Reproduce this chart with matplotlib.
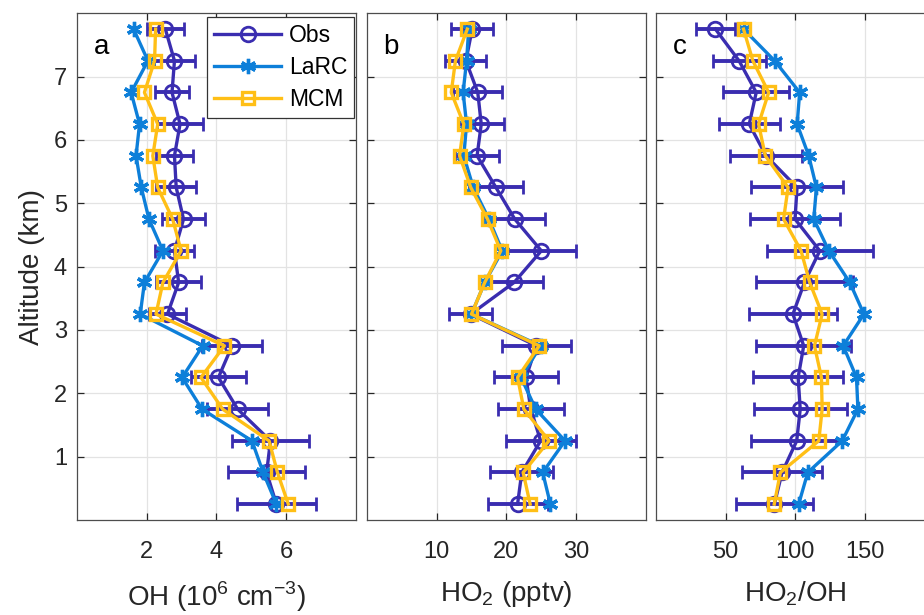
import numpy as np
import matplotlib
matplotlib.use("Agg")
import matplotlib.pyplot as plt
from matplotlib.lines import Line2D

plt.rcParams['font.family'] = ['Liberation Sans', 'DejaVu Sans']
plt.rcParams['mathtext.fontset'] = 'custom'
plt.rcParams['mathtext.rm'] = 'Liberation Sans'

altitude = [0.25, 0.75, 1.25, 1.75, 2.25, 2.75, 3.25, 3.75,
            4.25, 4.75, 5.25, 5.75, 6.25, 6.75, 7.25, 7.75]

# OH (10^6 cm^-3)
oh_obs = [5.72, 5.44, 5.55, 4.61, 4.06, 4.45, 2.60, 2.92,
          2.80, 3.06, 2.85, 2.80, 2.96, 2.73, 2.80, 2.54]
oh_obs_err = [1.14, 1.10, 1.10, 0.88, 0.79, 0.85, 0.53, 0.64,
              0.57, 0.62, 0.57, 0.52, 0.67, 0.50, 0.60, 0.52]
oh_larc = [5.72, 5.34, 5.02, 3.59, 3.02, 3.61, 1.82, 1.94,
           2.47, 2.07, 1.85, 1.70, 1.80, 1.56, 2.04, 1.63]
oh_mcm = [6.06, 5.75, 5.51, 4.18, 3.56, 4.23, 2.27, 2.47,
          2.99, 2.75, 2.32, 2.18, 2.32, 1.94, 2.23, 2.26]

# HO2 (pptv)
ho2_obs = [21.6, 22.2, 24.9, 23.5, 22.8, 24.3, 14.9, 21.1,
           25.0, 21.2, 18.5, 15.8, 16.4, 15.9, 14.2, 15.1]
ho2_obs_err = [4.3, 4.5, 5.0, 4.75, 4.6, 4.9, 3.05, 4.2,
               5.0, 4.3, 3.9, 3.1, 3.3, 3.5, 2.95, 3.05]
ho2_larc = [26.3, 25.2, 28.4, 24.2, 22.1, 24.9, 15.0, 16.9,
            19.4, 17.5, 15.25, 13.9, 14.3, 13.8, 14.3, 14.6]
ho2_mcm = [23.4, 22.4, 26.1, 22.5, 21.6, 24.7, 15.0, 16.9,
           19.2, 17.3, 14.9, 13.3, 13.9, 12.1, 12.7, 14.4]

# HO2/OH ratio
ratio_obs = [85.0, 90.5, 101.0, 103.5, 102.0, 106.0, 98.3, 106.5,
             117.5, 99.8, 101.2, 79.0, 67.0, 72.0, 59.7, 42.8]
ratio_obs_err = [27.5, 28.7, 32.6, 33.3, 32.4, 34.0, 31.7, 34.7,
                 38.0, 32.3, 32.7, 26.0, 21.9, 23.5, 19.0, 14.0]
ratio_larc = [102.4, 108.9, 133.6, 144.8, 143.8, 134.3, 149.1, 139.0,
              124.0, 113.2, 115.1, 109.6, 101.3, 103.1, 85.2, 62.9]
ratio_mcm = [84.9, 89.3, 116.8, 119.2, 118.7, 113.7, 119.2, 110.3,
             104.1, 91.6, 94.8, 78.5, 73.7, 80.9, 69.6, 62.9]

panel_letters = ['a', 'b', 'c']
xlabels = [r'OH (10$^{6}$ cm$^{-3}$)', r'HO$_{2}$ (pptv)', r'HO$_{2}$/OH']
xlims = [(0, 8), (0, 40), (0, 200)]
xticks = [[2, 4, 6], [10, 20, 30], [50, 100, 150]]
yticks = [1, 2, 3, 4, 5, 6, 7]

c_obs = '#3a2db0'
c_larc = '#0d7fd9'
c_mcm = '#ffbf16'
axis_color = '#4d4d4d'

panels = [
    (oh_obs, oh_obs_err, oh_larc, oh_mcm),
    (ho2_obs, ho2_obs_err, ho2_larc, ho2_mcm),
    (ratio_obs, ratio_obs_err, ratio_larc, ratio_mcm),
]

fig = plt.figure(figsize=(9.24, 6.15), dpi=100)
lefts = [0.0830, 0.3969, 0.7096]
width, bottom, height = 0.3023, 0.1545, 0.8239

asterisk = (6, 2, 0)
obs_style = dict(color=c_obs, lw=2.4, marker='o', ms=10.5, mfc='none',
                 mec=c_obs, mew=2.0)
larc_style = dict(color=c_larc, lw=2.4, marker=asterisk, ms=11, mew=2.4,
                  mec=c_larc)
mcm_style = dict(color=c_mcm, lw=2.4, marker='s', ms=9, mfc='none',
                 mec=c_mcm, mew=2.4)

for i, (obs, err, larc, mcm) in enumerate(panels):
    ax = fig.add_axes([lefts[i], bottom, width, height])
    ax.errorbar(obs, altitude, xerr=err, elinewidth=2.8, capsize=5,
                capthick=2.8, zorder=3, **obs_style)
    ax.plot(larc, altitude, zorder=4, **larc_style)
    ax.plot(mcm, altitude, zorder=5, **mcm_style)

    ax.set_xlim(*xlims[i])
    ax.set_ylim(0, 8)
    ax.set_xticks(xticks[i])
    ax.set_yticks(yticks)
    ax.grid(True, color='#e3e3e3', lw=0.9)
    ax.set_axisbelow(True)
    for sp in ax.spines.values():
        sp.set_color(axis_color)
        sp.set_linewidth(0.9)
    ax.tick_params(direction='in', length=5, width=0.9, color='#262626',
                   top=True, right=True, labelsize=17, colors='#262626')
    ax.tick_params(axis='x', pad=15)
    ax.tick_params(axis='y', pad=7)
    if i > 0:
        ax.tick_params(labelleft=False)
    ax.set_xlabel(xlabels[i], fontsize=20, labelpad=12, color='#262626')
    ax.text(0.06, 0.96, panel_letters[i], transform=ax.transAxes,
            fontsize=20, va='top', ha='left', color='black')
    if i == 0:
        ax.set_ylabel('Altitude (km)', fontsize=20, labelpad=6, color='#262626')
        handles = [Line2D([], [], **obs_style), Line2D([], [], **larc_style),
                   Line2D([], [], **mcm_style)]
        leg = ax.legend(handles, ['Obs', 'LaRC', 'MCM'],
                        loc='upper right', bbox_to_anchor=(0.993, 0.993),
                        borderaxespad=0, fontsize=16.5, frameon=True,
                        fancybox=False, handlelength=2.9, handletextpad=0.35,
                        labelspacing=0.4, borderpad=0.3)
        leg.get_frame().set_edgecolor('#333333')
        leg.get_frame().set_linewidth(0.9)
        leg.get_frame().set_alpha(1)

fig.savefig('out.png', dpi=100)
